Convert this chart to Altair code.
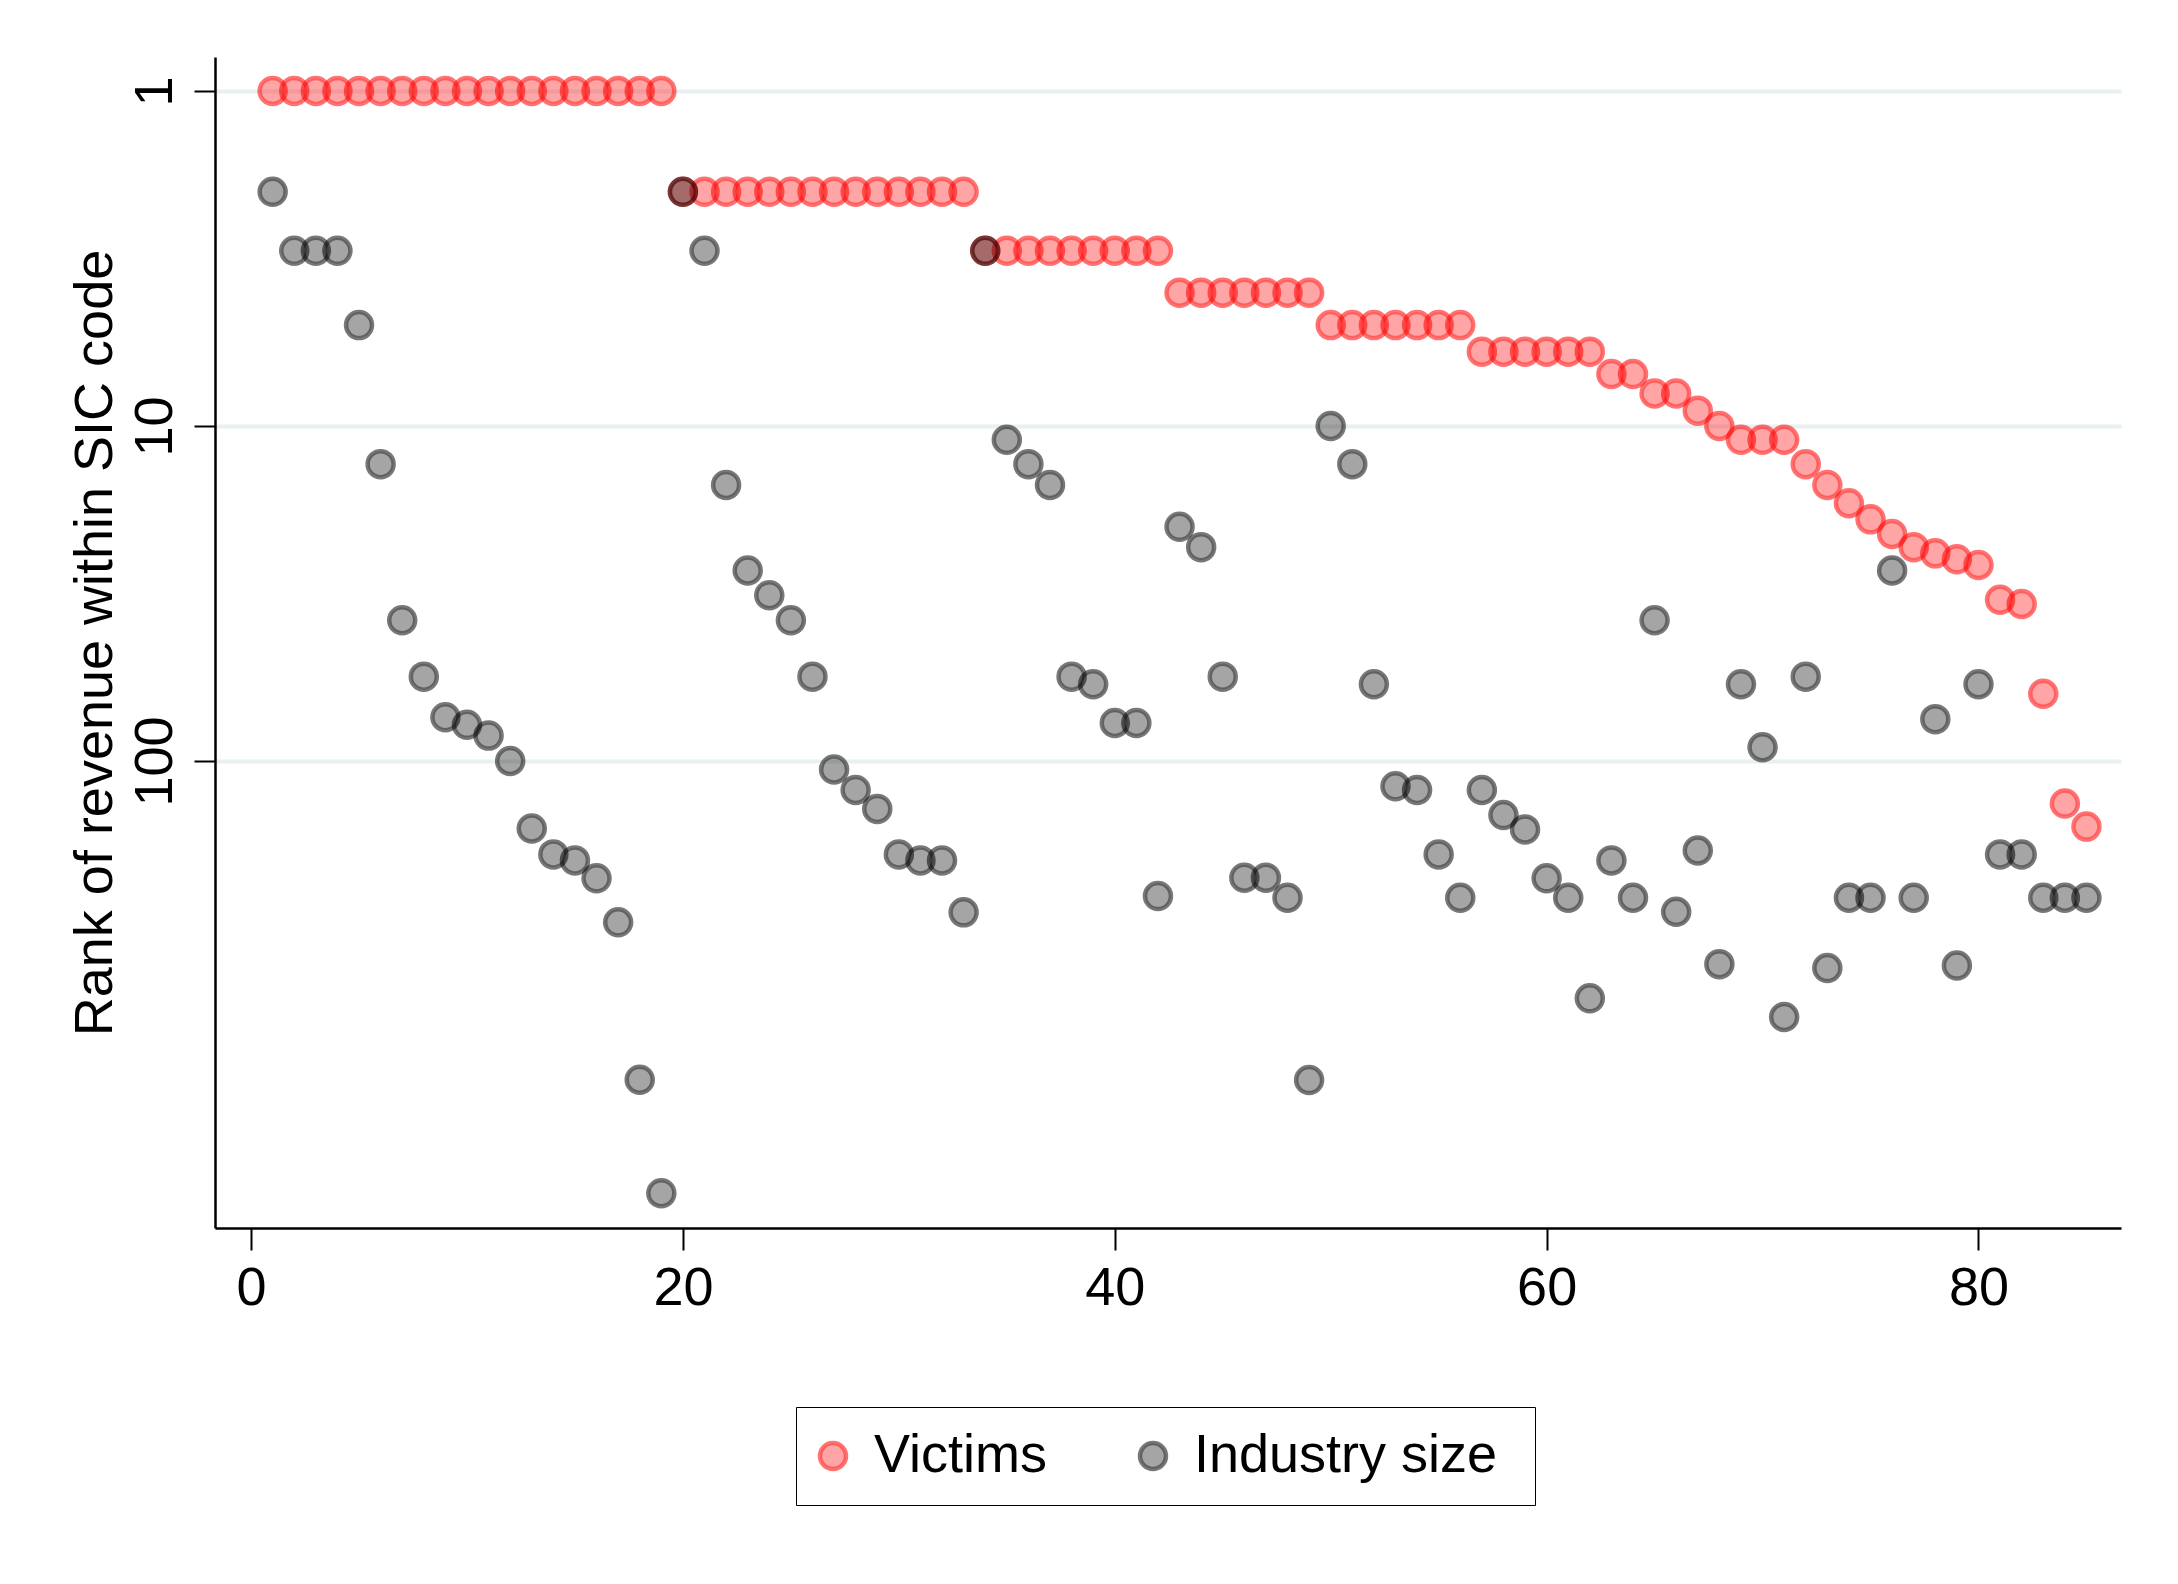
import altair as alt
import pandas as pd

x_vals = list(range(1, 86))

victims = ([1] * 19 + [2] * 14 + [3] * 9 + [4] * 7 + [5] * 7 + [6] * 6 +
           [7, 7, 8, 8, 9, 10, 11, 11, 11, 13, 15, 17, 19, 21, 23, 24, 25, 26,
            33, 34, 63, 134, 157])

industry = [2, 3, 3, 3, 5, 13, 38, 56, 74, 78,
            84, 100, 159, 190, 198, 224, 303, 894, 1950, 2,
            3, 15, 27, 32, 38, 56, 106, 122, 139, 190,
            198, 198, 283, 3, 11, 13, 15, 56, 59, 77,
            77, 253, 20, 23, 56, 223, 223, 256, 896, 10,
            13, 59, 119, 122, 190, 256, 122, 145, 160, 224,
            256, 511, 198, 256, 38, 282, 185, 404, 59, 91,
            581, 56, 415, 256, 256, 27, 256, 75, 408, 59,
            190, 190, 256, 256, 256]

series_names = ["Victims", "Industry size"]
x_ticks = [0, 20, 40, 60, 80]
y_ticks = [1, 10, 100]

rows = []
for xv, v in zip(x_vals, victims):
    rows.append({"idx": xv, "rank": v, "series": series_names[0], "ord": 0})
for xv, v in zip(x_vals, industry):
    rows.append({"idx": xv, "rank": v, "series": series_names[1], "ord": 1})
df = pd.DataFrame(rows)

FONT = "Liberation Sans"
FS = 54
MSIZE = 676

W, H = 1906, 1171
PAD_L, PAD_T = 207, 49
PAD_R = 2162 - PAD_L - W
PAD_B = 1568 - PAD_T - H

legend = alt.Legend(
    title=" ", titleOrient="right", titleFontSize=10, titlePadding=16,
    orient="none", legendX=796 - 215, legendY=1407 - 57,
    direction="horizontal", strokeColor="black", padding=22,
    labelFontSize=FS, labelFont=FONT, labelColor="black",
    symbolSize=MSIZE, symbolStrokeWidth=4.5, symbolType="circle",
    symbolOffset=-12,
    labelOffset=14, columnPadding=83, labelLimit=1000,
    fillColor="white",
)

chart = alt.Chart(df).mark_point(
    shape="circle", filled=True, size=MSIZE, strokeWidth=4.5
).encode(
    x=alt.X("idx:Q",
            scale=alt.Scale(domain=[-1.67, 86.6], nice=False, zero=False),
            axis=alt.Axis(values=x_ticks, title=None, grid=False,
                          labelFontSize=FS, labelFont=FONT, labelColor="black",
                          tickSize=22, tickWidth=2, tickColor="black",
                          domainColor="black", domainWidth=2.5,
                          labelPadding=11, labelFlush=False, format="d")),
    y=alt.Y("rank:Q",
            scale=alt.Scale(type="log", domain=[0.792, 2477], nice=False,
                            reverse=True),
            axis=alt.Axis(values=y_ticks, format="d",
                          title="Rank of revenue within SIC code",
                          titleFontSize=FS, titleFont=FONT,
                          titleFontWeight="normal", titleColor="black",
                          titleAngle=270, titleX=-104, titleY=H / 2,
                          titleAlign="center", titleBaseline="alphabetic",
                          labelAngle=270, labelAlign="center",
                          labelBaseline="alphabetic", labelPadding=23,
                          labelFontSize=FS, labelFont=FONT, labelColor="black",
                          tickSize=21, tickWidth=2, tickColor="black",
                          domainColor="black", domainWidth=2.5,
                          grid=True, gridColor="#e8f0f2", gridWidth=4)),
    fill=alt.Fill("series:N",
                  scale=alt.Scale(domain=series_names,
                                  range=["rgba(255,0,0,0.5)", "rgba(0,0,0,0.5)"]),
                  legend=legend),
    stroke=alt.Stroke("series:N",
                      scale=alt.Scale(domain=series_names,
                                      range=["rgba(255,0,0,0.78)", "rgba(0,0,0,0.75)"]),
                      legend=legend),
    order=alt.Order("ord:Q"),
).properties(
    width=W, height=H,
    background="white",
    autosize=alt.AutoSizeParams(type="none"),
    padding={"left": PAD_L, "top": PAD_T, "right": PAD_R, "bottom": PAD_B},
).configure_view(
    stroke=None
)

chart.save("out.html", embed_options={"renderer": "svg", "actions": False})
